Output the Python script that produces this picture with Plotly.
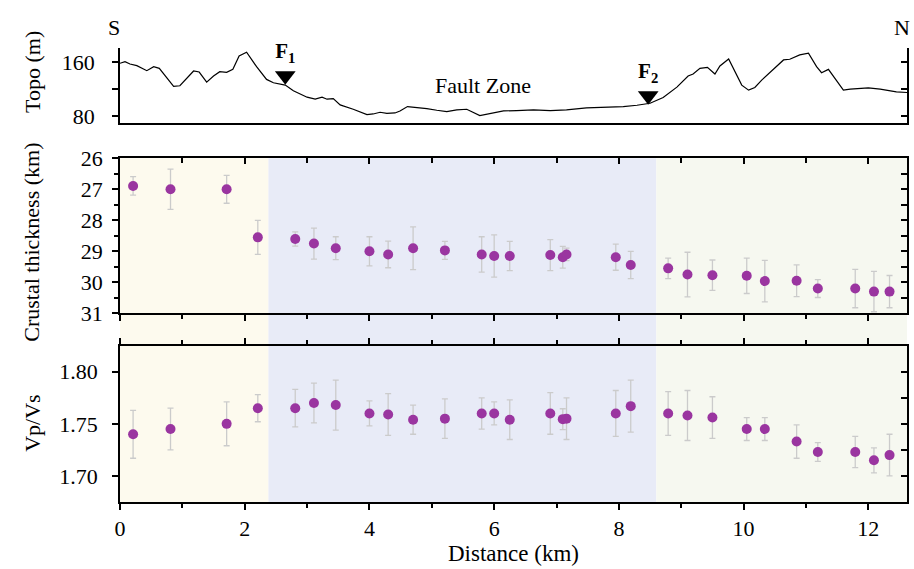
import plotly.graph_objects as go

# ---------------- data ----------------
topo_x = [0.0, 0.08, 0.16, 0.27, 0.43, 0.54, 0.63, 0.86, 0.96, 1.18, 1.27, 1.39, 1.50, 1.60, 1.71, 1.81,
          1.91, 2.03, 2.19, 2.35, 2.46, 2.65, 2.78, 3.00, 3.13, 3.24, 3.32, 3.42, 3.53, 3.74, 3.96, 4.06,
          4.17, 4.28, 4.41, 4.49, 4.61, 4.76, 4.92, 5.08, 5.24, 5.40, 5.56, 5.77, 5.99, 6.15, 6.36, 6.63,
          6.90, 7.16, 7.48, 7.75, 8.07, 8.29, 8.50, 8.71, 8.93, 9.11, 9.19, 9.30, 9.42, 9.54, 9.62, 9.76,
          9.97, 10.08, 10.18, 10.29, 10.45, 10.64, 10.74, 10.90, 11.04, 11.17, 11.25, 11.36, 11.60, 11.71,
          12.00, 12.19, 12.45, 12.62]
topo_y = [158.5, 161, 157.5, 155, 147.5, 153.5, 151, 124, 125, 147, 145.5, 130.5, 139.5, 146, 145, 149.5,
          169.5, 175, 153.5, 134.5, 129.5, 126, 117.5, 108, 105, 108, 105, 106, 96.5, 90, 82, 83,
          85.5, 84, 84.5, 87.5, 94, 93, 91, 88.5, 86.5, 89, 90, 80.5, 85, 87.5, 88, 89,
          88, 89, 92, 92.5, 94, 96, 99, 107.5, 123, 139.5, 142.5, 151, 152.5, 142.5, 154.5, 165,
          126, 118.5, 122.5, 133.5, 147.5, 163.5, 164.5, 171, 173.5, 153.5, 144.5, 149.5, 118.5, 120,
          122, 120, 116, 115]

fault_x = [2.65, 8.47]
fault_y = [140, 110]
fault_labels = ["<b>F<sub>1</sub></b>", "<b>F<sub>2</sub></b>"]

dist = [0.21, 0.81, 1.71, 2.21, 2.81, 3.11, 3.46, 4.00, 4.30, 4.70, 5.21, 5.80, 6.00, 6.25, 6.90, 7.10,
        7.16, 7.95, 8.19, 8.79, 9.10, 9.50, 10.05, 10.34, 10.85, 11.19, 11.79, 12.09, 12.34]
thick = [26.89, 27.0, 27.0, 28.55, 28.60, 28.75, 28.90, 29.0, 29.10, 28.90, 28.97, 29.10, 29.15, 29.15,
         29.12, 29.19, 29.10, 29.19, 29.44, 29.55, 29.75, 29.77, 29.79, 29.96, 29.95, 30.20, 30.20, 30.30, 30.30]
thick_err = [0.30, 0.65, 0.45, 0.55, 0.23, 0.50, 0.37, 0.47, 0.43, 0.69, 0.29, 0.57, 0.68, 0.47,
             0.50, 0.35, 0.20, 0.42, 0.44, 0.33, 0.72, 0.49, 0.57, 0.67, 0.51, 0.29, 0.62, 0.65, 0.52]
vpvs = [1.740, 1.745, 1.750, 1.765, 1.765, 1.770, 1.768, 1.760, 1.759, 1.754, 1.755, 1.760, 1.760, 1.754,
        1.760, 1.7545, 1.755, 1.760, 1.767, 1.760, 1.758, 1.756, 1.745, 1.745, 1.733, 1.723, 1.723, 1.715, 1.720]
vpvs_err = [0.023, 0.020, 0.021, 0.013, 0.018, 0.019, 0.024, 0.012, 0.020, 0.014, 0.019, 0.015, 0.011, 0.019,
            0.020, 0.010, 0.020, 0.022, 0.025, 0.021, 0.024, 0.020, 0.011, 0.011, 0.016, 0.009, 0.015, 0.012, 0.020]

zones = [(0, 2.38, "#fdfaee"), (2.38, 8.60, "#e8ebf7"), (8.60, 12.62, "#f6f8f0")]

x_ticks = [0, 2, 4, 6, 8, 10, 12]
x_minor = [1, 3, 5, 7, 9, 11]
thick_ticks = [26, 27, 28, 29, 30, 31]
thick_minor = [26.5, 27.5, 28.5, 29.5, 30.5]
vpvs_ticks = [1.70, 1.75, 1.80]
vpvs_minor = [1.725, 1.775]
topo_ticks = [80, 160]
topo_minor = [120]

XMAX = 12.62
FONT = "Liberation Serif, Times New Roman, serif"
PURPLE = "#9a35a0"
ERRC = "#cbcbcb"

fig = go.Figure()

# topo
fig.add_trace(go.Scatter(x=topo_x, y=topo_y, mode="lines", line=dict(color="black", width=1.2),
                         xaxis="x3", yaxis="y3", showlegend=False, hoverinfo="skip"))
fig.add_trace(go.Scatter(x=fault_x, y=fault_y, mode="markers+text", text=fault_labels,
                         textposition="top center", textfont=dict(size=21, family=FONT, color="black"),
                         marker=dict(symbol="triangle-down", size=18, color="black"), cliponaxis=False,
                         xaxis="x3", yaxis="y3", showlegend=False, hoverinfo="skip"))

# crustal thickness
fig.add_trace(go.Scatter(x=dist, y=thick, mode="markers",
                         error_y=dict(type="data", array=thick_err, color=ERRC, thickness=1.3, width=3),
                         marker=dict(color=PURPLE, size=10),
                         xaxis="x2", yaxis="y2", showlegend=False))
# vp/vs
fig.add_trace(go.Scatter(x=dist, y=vpvs, mode="markers",
                         error_y=dict(type="data", array=vpvs_err, color=ERRC, thickness=1.3, width=3),
                         marker=dict(color=PURPLE, size=10),
                         xaxis="x", yaxis="y", showlegend=False))

# invisible traces so the overlay (mirror-tick) axes get drawn
for xs, ys, xa, ya in [(dist, thick, "x4", "y2"), (dist, thick, "x2", "y5"),
                       (dist, vpvs, "x", "y6"), (topo_x, topo_y, "x3", "y7")]:
    fig.add_trace(go.Scatter(x=xs, y=ys, mode="markers", marker=dict(opacity=0, size=1),
                             xaxis=xa, yaxis=ya, showlegend=False, hoverinfo="skip"))

# background zones spanning middle + bottom panels
for x0, x1, c in zones:
    fig.add_shape(type="rect", xref="x", yref="paper", x0=x0, x1=x1, y0=0, y1=0.757,
                  fillcolor=c, line=dict(width=0), layer="below")

ax_common = dict(showgrid=False, zeroline=False, linecolor="black", linewidth=1.5,
                 tickcolor="black", tickwidth=1.5, automargin=False,
                 tickfont=dict(family=FONT, size=22, color="black"))

fig.update_layout(
    width=914, height=569,
    margin=dict(l=120, r=7, t=48, b=67),
    paper_bgcolor="white", plot_bgcolor="rgba(0,0,0,0)",
    font=dict(family=FONT, size=20, color="black"),
    xaxis=dict(**ax_common, domain=[0, 1], anchor="y", range=[0, XMAX], tickvals=x_ticks,
               ticks="outside", ticklen=6, mirror="ticks", showline=True,
               minor=dict(tickvals=x_minor, ticks="outside", ticklen=4, tickcolor="black")),
    yaxis=dict(**ax_common, domain=[0, 0.3443], anchor="x", range=[1.675, 1.825],
               tickvals=vpvs_ticks, tickformat=".2f", ticks="outside", ticklen=6, showline=True,
               ticklabelstandoff=10),
    yaxis6=dict(**ax_common, overlaying="y", anchor="x", side="right", range=[1.675, 1.825],
                tickvals=sorted(vpvs_ticks + vpvs_minor), ticks="inside", ticklen=6,
                showticklabels=False, showline=True),
    xaxis2=dict(**ax_common, domain=[0, 1], anchor="y2", range=[0, XMAX], matches="x",
                tickvals=x_ticks, ticks="outside", ticklen=6, showticklabels=False, showline=True,
                minor=dict(tickvals=x_minor, ticks="outside", ticklen=4, tickcolor="black")),
    xaxis4=dict(**ax_common, overlaying="x2", anchor="y2", side="top", range=[0, XMAX],
                tickvals=x_ticks, ticks="inside", ticklen=6, showticklabels=False, showline=True,
                minor=dict(tickvals=x_minor, ticks="inside", ticklen=5, tickcolor="black")),
    yaxis2=dict(**ax_common, domain=[0.4156, 0.757], anchor="x2", range=[31, 26],
                tickvals=thick_ticks, ticks="outside", ticklen=6, showline=True, ticklabelstandoff=5,
                minor=dict(tickvals=thick_minor, ticks="outside", ticklen=4, tickcolor="black")),
    yaxis5=dict(**ax_common, overlaying="y2", anchor="x2", side="right", range=[31, 26],
                tickvals=sorted(thick_ticks[1:-1] + thick_minor), ticks="inside", ticklen=6,
                showticklabels=False, showline=True),
    xaxis3=dict(**ax_common, domain=[0, 1], anchor="y3", range=[0, XMAX], matches="x",
                showticklabels=False, ticks="", showline=True),
    yaxis3=dict(**ax_common, domain=[0.8355, 1], anchor="x3", range=[70, 181.3],
                tickvals=topo_ticks, ticks="outside", ticklen=6, showline=True, ticklabelstandoff=13,
                minor=dict(tickvals=topo_minor, ticks="outside", ticklen=6, tickcolor="black")),
    yaxis7=dict(**ax_common, overlaying="y3", anchor="x3", side="right", range=[70, 181.3],
                tickvals=sorted(topo_ticks + topo_minor), ticks="inside", ticklen=6,
                showticklabels=False, showline=True),
)

# axis titles and labels
title_font = dict(family=FONT, size=22, color="black")
for txt, yy in [("Topo (m)", 0.947), ("Crustal thickness (km)", 0.573), ("Vp/Vs", 0.174)]:
    fig.add_annotation(x=-0.112, y=yy, xref="paper", yref="paper", text=txt, textangle=-90,
                       showarrow=False, xanchor="center", yanchor="middle", font=title_font)
fig.add_annotation(x=0.5, y=-0.113, xref="paper", yref="paper", text="Distance (km)", showarrow=False,
                   xanchor="center", yanchor="middle", font=dict(family=FONT, size=23, color="black"))
fig.add_annotation(x=5.82, y=125, xref="x3", yref="y3", text="Fault Zone", showarrow=False,
                   font=dict(family=FONT, size=22, color="black"))
fig.add_annotation(x=-0.0076, y=1.046, xref="paper", yref="paper", text="S", showarrow=False,
                   xanchor="center", yanchor="middle", font=dict(family=FONT, size=22, color="black"))
fig.add_annotation(x=0.9937, y=1.046, xref="paper", yref="paper", text="N", showarrow=False,
                   xanchor="center", yanchor="middle", font=dict(family=FONT, size=22, color="black"))

fig.write_html("out.html", config={"displayModeBar": False},
               post_script="document.body.style.margin='0';")
